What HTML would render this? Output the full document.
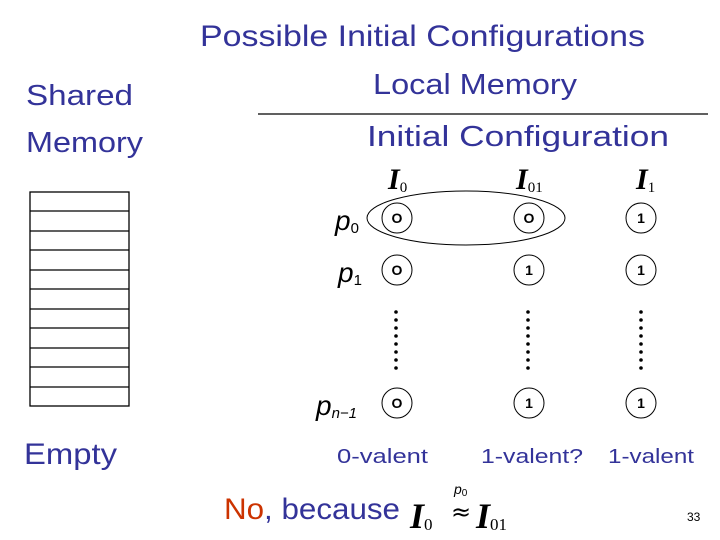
<!DOCTYPE html>
<html><head><meta charset="utf-8"><style>
html,body{margin:0;padding:0;background:#fff;}
svg{display:block;}
.b{fill:#333399;font-family:"Liberation Sans",sans-serif;}
.m{font-family:"Liberation Serif",serif;font-style:italic;fill:#000;}
.p{font-family:"Liberation Sans",sans-serif;font-style:italic;fill:#000;}
.d{font-family:"Liberation Sans",sans-serif;font-weight:bold;fill:#000;font-size:14px;text-anchor:middle;}
</style></head><body>
<svg width="720" height="540" viewBox="0 0 720 540" xmlns="http://www.w3.org/2000/svg">
<rect width="720" height="540" fill="#fff"/>
<text class="b" x="200" y="46" font-size="30" textLength="445" lengthAdjust="spacingAndGlyphs">Possible Initial Configurations</text>
<text class="b" x="373" y="94" font-size="29" textLength="204" lengthAdjust="spacingAndGlyphs">Local Memory</text>
<line x1="258" y1="114" x2="708" y2="114" stroke="#000" stroke-width="1.3"/>
<text class="b" x="367" y="146" font-size="29" textLength="302" lengthAdjust="spacingAndGlyphs">Initial Configuration</text>
<text class="b" x="26" y="105" font-size="29" textLength="107" lengthAdjust="spacingAndGlyphs">Shared</text>
<text class="b" x="26" y="152" font-size="29" textLength="117" lengthAdjust="spacingAndGlyphs">Memory</text>
<text class="b" x="24" y="464" font-size="30" textLength="93" lengthAdjust="spacingAndGlyphs">Empty</text>
<g fill="none" stroke="#000" stroke-width="1.3">
<rect x="30" y="192" width="99" height="214"/>
<line x1="30" y1="211" x2="129" y2="211"/><line x1="30" y1="231" x2="129" y2="231"/>
<line x1="30" y1="250" x2="129" y2="250"/><line x1="30" y1="270" x2="129" y2="270"/>
<line x1="30" y1="289" x2="129" y2="289"/><line x1="30" y1="309" x2="129" y2="309"/>
<line x1="30" y1="328" x2="129" y2="328"/><line x1="30" y1="348" x2="129" y2="348"/>
<line x1="30" y1="367" x2="129" y2="367"/><line x1="30" y1="387" x2="129" y2="387"/>
</g>
<g font-weight="bold">
<text class="m" x="388" y="189" font-size="30">I<tspan font-size="15" font-style="normal" font-weight="normal" dy="3">0</tspan></text>
<text class="m" x="516" y="189" font-size="30">I<tspan font-size="15" font-style="normal" font-weight="normal" dy="3">01</tspan></text>
<text class="m" x="636" y="189" font-size="30">I<tspan font-size="15" font-style="normal" font-weight="normal" dy="3">1</tspan></text>
</g>
<text class="p" x="335" y="230" font-size="28">p<tspan font-size="15" font-style="normal" dy="3">0</tspan></text>
<text class="p" x="338" y="282" font-size="28">p<tspan font-size="15" font-style="normal" dy="3">1</tspan></text>
<text class="p" x="316" y="415" font-size="28">p<tspan font-size="15" dy="3">n−1</tspan></text>
<ellipse cx="466" cy="218" rx="99" ry="27" fill="none" stroke="#000" stroke-width="1"/>
<g fill="none" stroke="#000" stroke-width="1">
<circle cx="397" cy="218" r="15"/><circle cx="529" cy="218" r="15"/><circle cx="641" cy="218" r="15"/>
<circle cx="397" cy="270" r="15"/><circle cx="529" cy="270" r="15"/><circle cx="641" cy="270" r="15"/>
<circle cx="397" cy="403" r="15"/><circle cx="529" cy="403" r="15"/><circle cx="641" cy="403" r="15"/>
</g>
<text class="d" x="397" y="223">O</text><text class="d" x="529" y="223">O</text><text class="d" x="641" y="223">1</text>
<text class="d" x="397" y="275">O</text><text class="d" x="529" y="275">1</text><text class="d" x="641" y="275">1</text>
<text class="d" x="397" y="408">O</text><text class="d" x="529" y="408">1</text><text class="d" x="641" y="408">1</text>
<g fill="#000">
<circle cx="396" cy="312" r="1.8"/><circle cx="396" cy="320" r="1.8"/><circle cx="396" cy="328" r="1.8"/><circle cx="396" cy="336" r="1.8"/><circle cx="396" cy="344" r="1.8"/><circle cx="396" cy="352" r="1.8"/><circle cx="396" cy="360" r="1.8"/><circle cx="396" cy="368" r="1.8"/>
<circle cx="528" cy="312" r="1.8"/><circle cx="528" cy="320" r="1.8"/><circle cx="528" cy="328" r="1.8"/><circle cx="528" cy="336" r="1.8"/><circle cx="528" cy="344" r="1.8"/><circle cx="528" cy="352" r="1.8"/><circle cx="528" cy="360" r="1.8"/><circle cx="528" cy="368" r="1.8"/>
<circle cx="641" cy="312" r="1.8"/><circle cx="641" cy="320" r="1.8"/><circle cx="641" cy="328" r="1.8"/><circle cx="641" cy="336" r="1.8"/><circle cx="641" cy="344" r="1.8"/><circle cx="641" cy="352" r="1.8"/><circle cx="641" cy="360" r="1.8"/><circle cx="641" cy="368" r="1.8"/>
</g>
<text class="b" x="337" y="463" font-size="20" textLength="91" lengthAdjust="spacingAndGlyphs">0-valent</text>
<text class="b" x="481" y="463" font-size="20" textLength="102" lengthAdjust="spacingAndGlyphs">1-valent?</text>
<text class="b" x="608" y="463" font-size="20" textLength="86" lengthAdjust="spacingAndGlyphs">1-valent</text>
<text x="224" y="519" font-size="30" font-family="Liberation Sans,sans-serif" textLength="176" lengthAdjust="spacingAndGlyphs"><tspan fill="#cc3300">No</tspan><tspan fill="#333399">, because</tspan></text>
<text class="m" x="410" y="528" font-size="36" font-weight="bold">I<tspan font-size="17" font-style="normal" font-weight="normal" dy="2">0</tspan></text>
<text x="451" y="520" font-size="24" font-family="DejaVu Sans,sans-serif" fill="#000">≈</text>
<text class="p" x="454" y="494" font-size="14">p<tspan font-size="10" font-style="normal" dy="2">0</tspan></text>
<text class="m" x="476" y="528" font-size="36" font-weight="bold">I<tspan font-size="17" font-style="normal" font-weight="normal" dy="2">01</tspan></text>
<text x="687" y="521" font-size="12" font-family="Liberation Sans,sans-serif" fill="#000">33</text>
</svg>
</body></html>
